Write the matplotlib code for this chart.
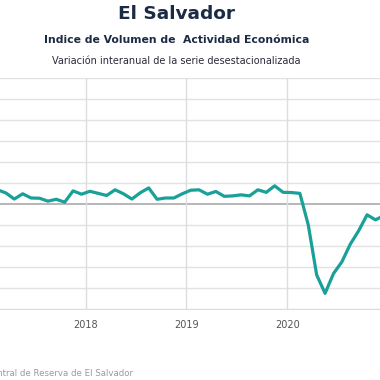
import matplotlib
matplotlib.use("Agg")
import matplotlib.pyplot as plt

plt.rcParams['font.family'] = ['DejaVu Sans']

# IVAE El Salvador, variacion interanual (%), mensual desde feb-2017
start_year, start_month = 2017, 2
ivae = [3.45, 2.7, 1.25, 2.5, 1.5, 1.45, 0.75, 1.2, 0.5, 3.2, 2.4,
        3.1, 2.6, 2.1, 3.45, 2.5, 1.25, 2.75, 3.9, 1.2, 1.5, 1.5, 2.5,
        3.35, 3.45, 2.4, 3.05, 1.9, 2.0, 2.25, 2.0, 3.45, 2.85, 4.4, 2.85,
        2.8, 2.6, -4.9, -16.8, -21.2, -16.5, -13.7, -9.5, -6.3, -2.5, -3.7, -2.7]
years = [2017, 2018, 2019, 2020]
yticks = list(range(-25, 31, 5))

# fechas a mitad de mes en anos decimales
x = [start_year + (start_month - 1 + i + 0.5) / 12 for i in range(len(ivae))]

fig = plt.figure(figsize=(3.8, 3.8), dpi=100)
ax = fig.add_axes([0, 0.186, 1, 0.608])

for v in yticks:
    ax.axhline(v, color='#aaaaaa' if v == 0 else '#e2e2e2', lw=1.2 if v == 0 else 1, zorder=1)
for yr in years:
    ax.axvline(yr, color='#dddddd', lw=1, zorder=1)

ax.plot(x, ivae, color='#19a098', lw=2.3, solid_joinstyle='round', zorder=3)

ax.set_xticks(years)
ax.set_xticklabels([str(y) for y in years])
ax.set_yticks([])
ax.set_xlim(2017.150, 2020.920)
ax.set_ylim(-25, 30)
ax.tick_params(axis='x', length=0, pad=8, labelsize=7, labelcolor='#555555')
for s in ['top', 'left', 'right']:
    ax.spines[s].set_visible(False)
ax.spines['bottom'].set_color('#dddddd')

cx = 176.7 / 380
fig.text(cx, 1 - 14 / 380, 'El Salvador', ha='center', va='center',
         fontsize=13.3, fontweight='bold', color='#1b2b44')
fig.text(cx, 1 - 40 / 380, 'Indice de Volumen de  Actividad Económica', ha='center', va='center',
         fontsize=7.8, fontweight='bold', color='#1b2b44')
fig.text(cx, 1 - 61 / 380, 'Variación interanual de la serie desestacionalizada', ha='center',
         va='center', fontsize=7, color='#2a2a3a')
fig.text(133 / 380, 1 - 373 / 380, 'Fuente: Banco Central de Reserva de El Salvador', ha='right',
         va='center', fontsize=6.2, color='#9a9a9a')

fig.savefig('out.png', dpi=100)
